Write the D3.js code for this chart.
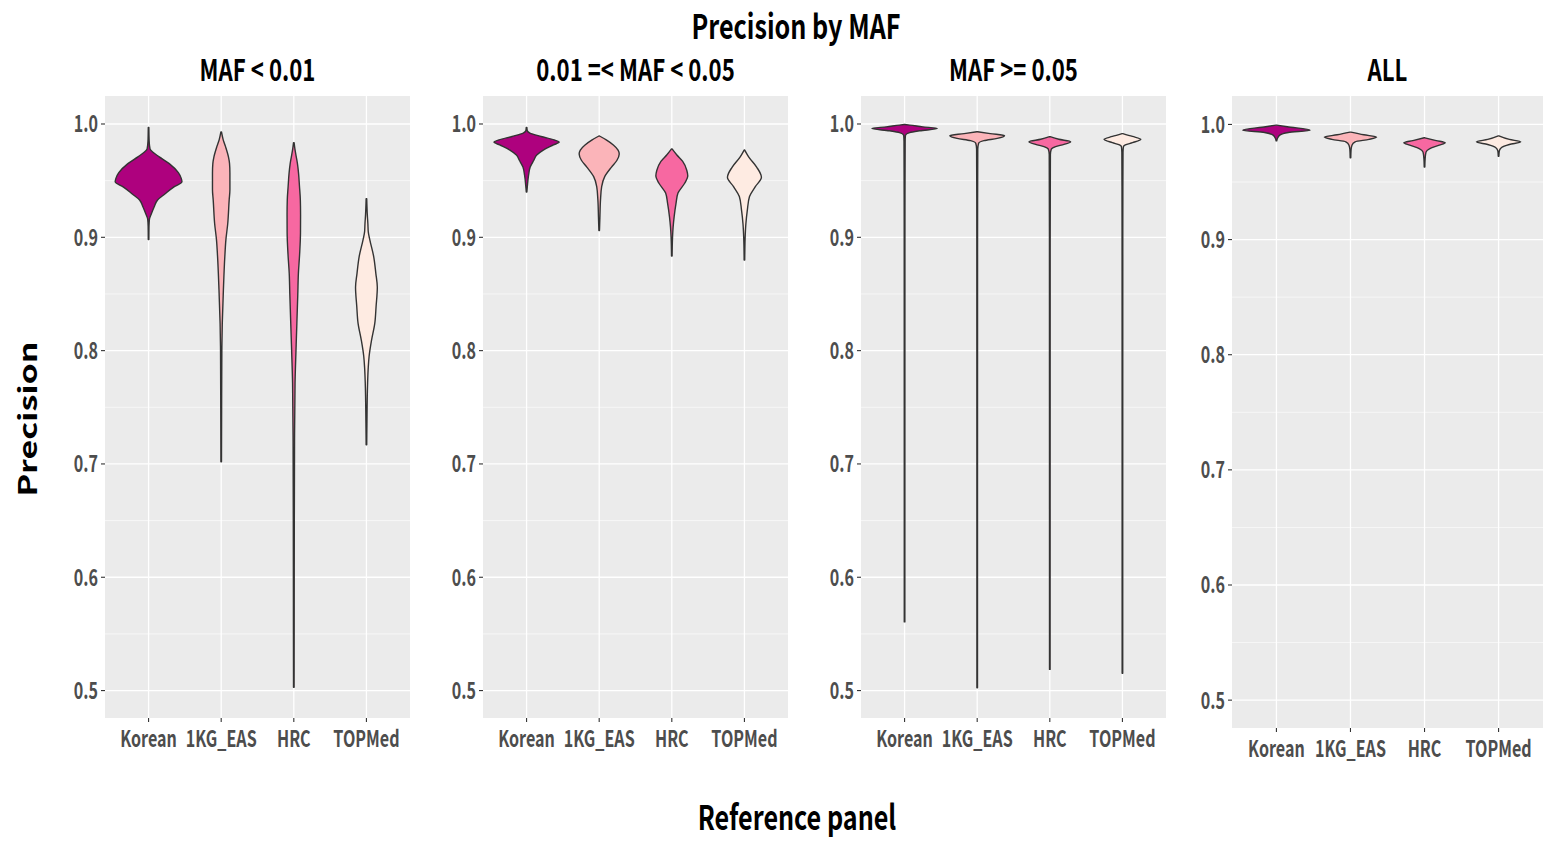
<!DOCTYPE html>
<html><head><meta charset="utf-8">
<script src="https://cdn.jsdelivr.net/npm/d3@7"></script>
<style>body{margin:0;background:#fff}svg{display:block}</style>
</head><body><svg id="c" width="1545" height="841"></svg>
<script>
// ---------- data ----------
const categories = ["Korean", "1KG_EAS", "HRC", "TOPMed"];
const fillColors = ["#AE017E", "#FBB4B9", "#F768A1", "#FEEBE2"];
const panelTitles = ["MAF < 0.01", "0.01 =< MAF < 0.05", "MAF >= 0.05", "ALL"];
const yTicks = [0.5, 0.6, 0.7, 0.8, 0.9, 1.0];
const yTickLabels = ["0.5", "0.6", "0.7", "0.8", "0.9", "1.0"];
const chartTitle = "Precision by MAF";
const xTitle = "Reference panel";
const yTitle = "Precision";

// violin profiles: [precision, half-width (category units)], per category order
const violinsMafLow = [
  [[0.898,0.004],[0.91,0.006],[0.916,0.012],[0.921,0.04],[0.927,0.078],[0.933,0.124],[0.938,0.22],[0.9445,0.35],[0.949,0.46],[0.952,0.45],[0.957,0.41],[0.965,0.285],[0.971,0.147],[0.975,0.06],[0.978,0.02],[0.985,0.008],[0.997,0.004]],
  [[0.702,0.004],[0.75,0.006],[0.80,0.009],[0.824,0.015],[0.853,0.03],[0.883,0.05],[0.898,0.065],[0.912,0.09],[0.933,0.11],[0.942,0.12],[0.957,0.12],[0.965,0.115],[0.971,0.10],[0.98,0.06],[0.986,0.028],[0.993,0.004]],
  [[0.503,0.004],[0.55,0.005],[0.65,0.007],[0.72,0.01],[0.771,0.017],[0.80,0.03],[0.824,0.042],[0.85,0.055],[0.868,0.063],[0.885,0.08],[0.904,0.092],[0.92,0.093],[0.933,0.09],[0.945,0.078],[0.956,0.066],[0.965,0.05],[0.971,0.034],[0.978,0.015],[0.9835,0.004]],
  [[0.717,0.004],[0.736,0.007],[0.771,0.016],[0.785,0.025],[0.795,0.037],[0.809,0.07],[0.824,0.115],[0.839,0.133],[0.856,0.15],[0.868,0.13],[0.883,0.10],[0.898,0.046],[0.905,0.025],[0.912,0.02],[0.92,0.012],[0.934,0.004]]
];
const violinsMafMid = [
  [[0.94,0.004],[0.946,0.012],[0.955,0.028],[0.962,0.05],[0.968,0.10],[0.9726,0.14],[0.977,0.23],[0.9815,0.37],[0.984,0.45],[0.986,0.38],[0.989,0.20],[0.992,0.046],[0.994,0.01],[0.997,0.004]],
  [[0.906,0.004],[0.918,0.01],[0.933,0.018],[0.9447,0.034],[0.9535,0.076],[0.962,0.17],[0.968,0.245],[0.9735,0.276],[0.977,0.26],[0.9815,0.195],[0.986,0.097],[0.9894,0.004]],
  [[0.8835,0.004],[0.90,0.01],[0.909,0.018],[0.918,0.032],[0.93,0.058],[0.939,0.085],[0.9477,0.177],[0.954,0.22],[0.959,0.207],[0.967,0.15],[0.9726,0.07],[0.978,0.004]],
  [[0.880,0.004],[0.90,0.01],[0.912,0.02],[0.924,0.04],[0.936,0.07],[0.9447,0.15],[0.953,0.234],[0.962,0.168],[0.971,0.058],[0.977,0.004]]
];
const violinsMafHigh = [
  [[0.5606,0.004],[0.9,0.005],[0.985,0.008],[0.990,0.012],[0.9924,0.07],[0.994,0.21],[0.996,0.45],[0.9975,0.25],[0.999,0.07],[0.9995,0.004]],
  [[0.5025,0.004],[0.9,0.005],[0.978,0.008],[0.983,0.02],[0.9853,0.092],[0.9873,0.276],[0.9897,0.377],[0.9915,0.18],[0.9932,0.004]],
  [[0.5187,0.004],[0.9,0.005],[0.973,0.008],[0.9777,0.02],[0.980,0.08],[0.982,0.195],[0.9844,0.287],[0.9865,0.125],[0.9888,0.004]],
  [[0.5152,0.004],[0.9,0.005],[0.975,0.008],[0.98,0.014],[0.9815,0.04],[0.9835,0.138],[0.9865,0.253],[0.989,0.138],[0.9915,0.004]]
];
const violinsAll = [
  [[0.9857,0.004],[0.988,0.015],[0.9907,0.045],[0.993,0.16],[0.995,0.455],[0.998,0.146],[0.9994,0.004]],
  [[0.971,0.004],[0.978,0.008],[0.982,0.02],[0.9849,0.063],[0.987,0.25],[0.989,0.354],[0.991,0.18],[0.9933,0.004]],
  [[0.9631,0.004],[0.97,0.008],[0.976,0.02],[0.979,0.072],[0.982,0.20],[0.984,0.28],[0.986,0.158],[0.9884,0.004]],
  [[0.9724,0.004],[0.977,0.01],[0.98,0.04],[0.9826,0.146],[0.9849,0.30],[0.987,0.146],[0.9901,0.004]]
];
const panelData = [violinsMafLow, violinsMafMid, violinsMafHigh, violinsAll];

// ---------- layout ----------
const panels = [
  {x0:105, x1:410, y0:96, y1:718},
  {x0:483, x1:788, y0:96, y1:718},
  {x0:861, x1:1166, y0:96, y1:718},
  {x0:1232, x1:1543, y0:96, y1:728}
];
const yDomain = [0.4758, 1.0247];
const SX = 0.74; // horizontal condensation of text
const SX_TICK = 0.7;
const FONT = "'Noto Sans CJK KR','Noto Sans',sans-serif";

const svg = d3.select("#c");

function hText(g, x, y, str, size, weight, fill, anchor, sx) {
  return g.append("text")
    .attr("transform", `translate(${x},${y}) scale(${sx || SX},1)`)
    .attr("text-anchor", anchor)
    .style("font-family", FONT).style("font-size", size + "px")
    .style("font-weight", weight).attr("fill", fill).text(str);
}

panels.forEach((p, pi) => {
  const g = svg.append("g");
  const y = d3.scaleLinear().domain(yDomain).range([p.y1, p.y0]);
  const x = d3.scalePoint().domain(categories).range([p.x0, p.x1]).padding(0.6);
  const step = x.step();

  g.append("rect").attr("x", p.x0).attr("y", p.y0)
    .attr("width", p.x1 - p.x0).attr("height", p.y1 - p.y0).attr("fill", "#EBEBEB");

  // minor grid
  const minor = d3.range(0.55, 1.0, 0.1);
  g.selectAll(".mn").data(minor).join("line")
    .attr("x1", p.x0).attr("x2", p.x1).attr("y1", d => y(d)).attr("y2", d => y(d))
    .attr("stroke", "#fff").attr("stroke-width", 0.6);
  // major grid
  g.selectAll(".mj").data(yTicks).join("line")
    .attr("x1", p.x0).attr("x2", p.x1).attr("y1", d => y(d)).attr("y2", d => y(d))
    .attr("stroke", "#fff").attr("stroke-width", 1.3);
  g.selectAll(".vg").data(categories).join("line")
    .attr("x1", d => x(d)).attr("x2", d => x(d)).attr("y1", p.y0).attr("y2", p.y1)
    .attr("stroke", "#fff").attr("stroke-width", 1.3);

  // violins
  panelData[pi].forEach((prof, ci) => {
    const cx = x(categories[ci]);
    const area = d3.area()
      .y(d => y(d[0]))
      .x0(d => cx - d[1] * step)
      .x1(d => cx + d[1] * step)
      .curve(d3.curveMonotoneY);
    g.append("path").datum(prof).attr("d", area)
      .attr("fill", fillColors[ci]).attr("stroke", "#333333")
      .attr("stroke-width", 1.4).attr("stroke-linejoin", "round");
  });

  // y axis ticks & labels
  yTicks.forEach((t, i) => {
    g.append("line").attr("x1", p.x0 - 4).attr("x2", p.x0).attr("y1", y(t)).attr("y2", y(t))
      .attr("stroke", "#333").attr("stroke-width", 1.1);
    hText(g, p.x0 - 7, y(t) + 8.5, yTickLabels[i], 23, 600, "#4D4D4D", "end", SX_TICK);
  });
  // x axis ticks & labels
  categories.forEach(c => {
    g.append("line").attr("x1", x(c)).attr("x2", x(c)).attr("y1", p.y1).attr("y2", p.y1 + 4)
      .attr("stroke", "#333").attr("stroke-width", 1.1);
    hText(g, x(c), p.y1 + 28.5, c, 23, 600, "#4D4D4D", "middle", SX_TICK);
  });
  // panel title
  hText(g, (p.x0 + p.x1) / 2, 81, panelTitles[pi], 30, 700, "#000", "middle");
});

hText(svg, 796, 39, chartTitle, 34, 700, "#000", "middle");
hText(svg, 797, 830, xTitle, 34, 700, "#000", "middle");
svg.append("text")
  .attr("transform", `translate(37,419) scale(${SX},1) rotate(-90)`)
  .attr("text-anchor", "middle")
  .style("font-family", FONT).style("font-size", "34px").style("font-weight", 700)
  .attr("fill", "#000").text(yTitle);
</script>
</body></html>
